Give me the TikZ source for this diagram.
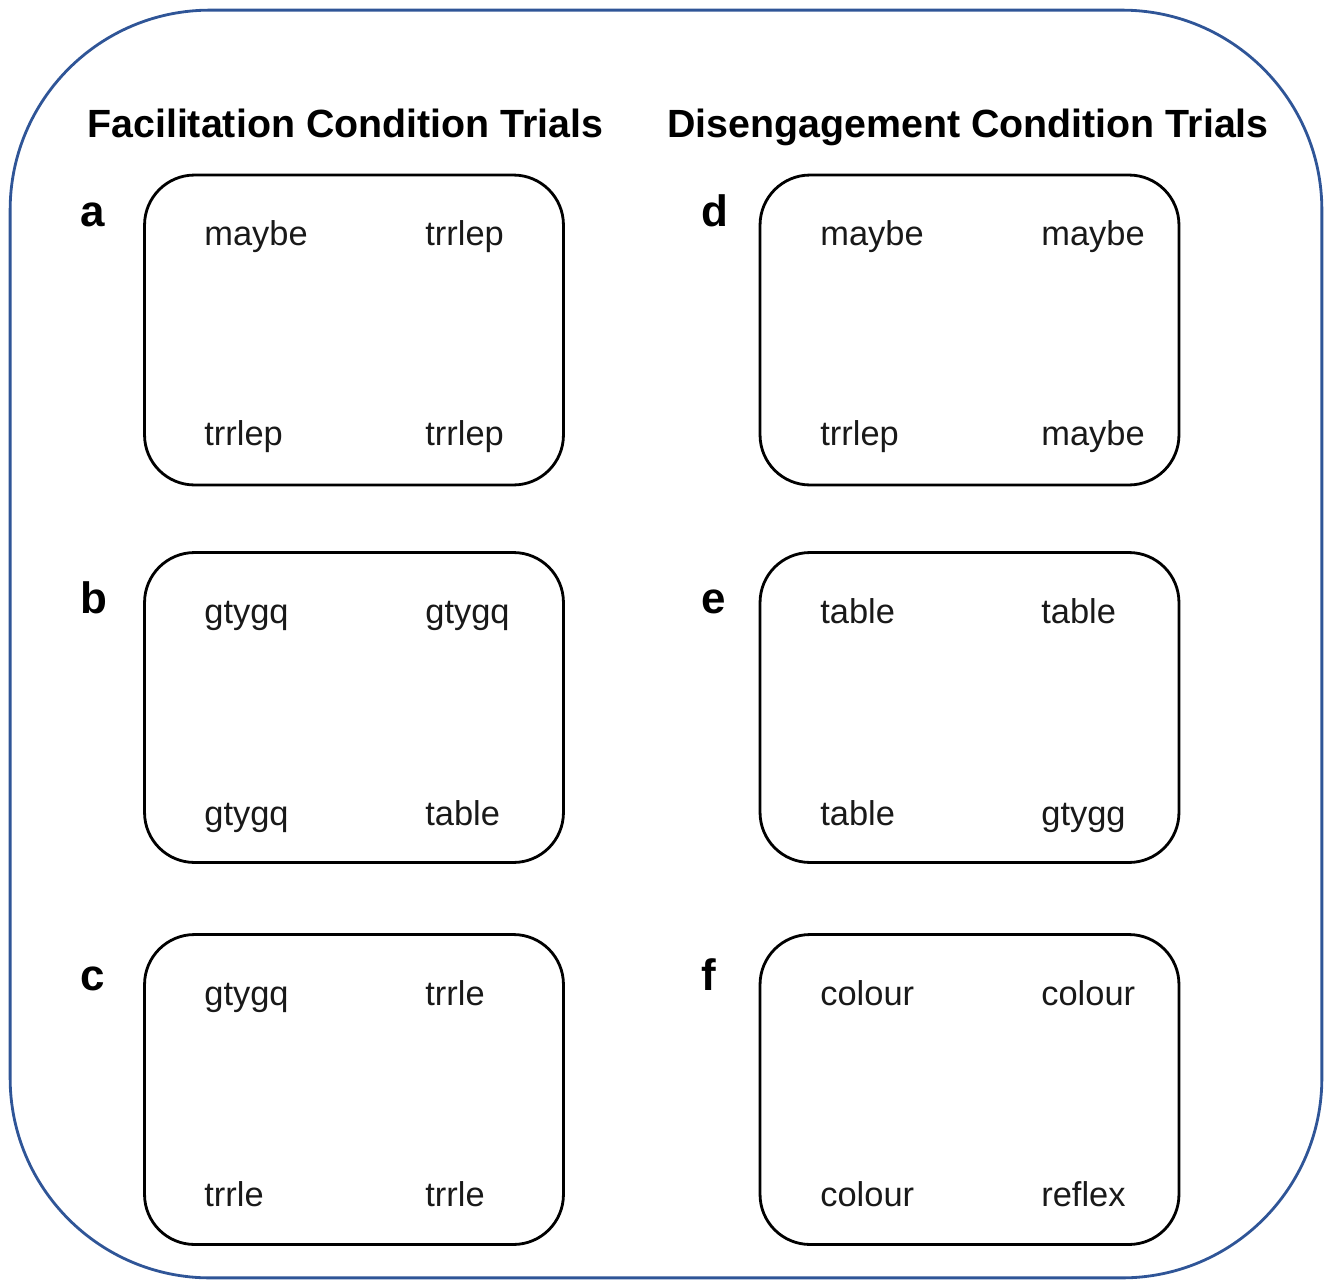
\documentclass[tikz,border=0pt]{standalone}
\usepackage{fontspec}
\setmainfont{Liberation Sans}
\usepackage{tikz}
\usetikzlibrary{positioning}
\definecolor{frameblue}{RGB}{47,85,151}

\begin{document}
\begin{tikzpicture}[
        x=0.02cm, y=-0.02cm,
        frame/.style={rectangle, rounded corners=4cm, draw=frameblue, line width=1.6pt,
                      minimum width=26.24cm, minimum height=25.36cm, inner sep=0pt},
        panel/.style={rectangle, rounded corners=1cm, draw=black, line width=1.6pt,
                      minimum width=8.38cm, minimum height=6.2cm, inner sep=0pt},
        heading/.style={anchor=base west, font=\fontsize{22.4}{26}\selectfont\bfseries, inner sep=0pt},
        letter/.style={anchor=base west, font=\fontsize{25}{30}\selectfont\bfseries, inner sep=0pt},
        word/.style={anchor=base west, font=\fontsize{19.6}{23}\selectfont, text=black!90, inner sep=0pt}
    ]
    \useasboundingbox (0,0) rectangle (1325,1281);
    \node[frame] (frame) at (666,644) {};

    \node[heading] (hfac) at (87,137)  {Facilitation Condition Trials};
    \node[heading] (hdis) at (667,137) {Disengagement Condition Trials};

    % facilitation column
    \node[panel] (pa) at (354,330)    {};
    \node[panel] (pb) at (354,707.5)  {};
    \node[panel] (pc) at (354,1089.5) {};
    \node[letter] (la) at (80,226)  {a};
    \node[letter] (lb) at (80,613)  {b};
    \node[letter] (lc) at (80,990)  {c};

    \node[word] (wa1) at (204,245)  {maybe};
    \node[word] (wa2) at (425,245)  {trrlep};
    \node[word] (wa3) at (204,445)  {trrlep};
    \node[word] (wa4) at (425,445)  {trrlep};

    \node[word] (wb1) at (204,623)  {gtygq};
    \node[word] (wb2) at (425,623)  {gtygq};
    \node[word] (wb3) at (204,825)  {gtygq};
    \node[word] (wb4) at (425,825)  {table};

    \node[word] (wc1) at (204,1005) {gtygq};
    \node[word] (wc2) at (425,1005) {trrle};
    \node[word] (wc3) at (204,1206) {trrle};
    \node[word] (wc4) at (425,1206) {trrle};

    % disengagement column
    \node[panel] (pd) at (969.5,330)    {};
    \node[panel] (pe) at (969.5,707.5)  {};
    \node[panel] (pf) at (969.5,1089.5) {};
    \node[letter] (ld) at (701,226) {d};
    \node[letter] (le) at (701,613) {e};
    \node[letter] (lf) at (701,990) {f};

    \node[word] (wd1) at (820,245)  {maybe};
    \node[word] (wd2) at (1041,245) {maybe};
    \node[word] (wd3) at (820,445)  {trrlep};
    \node[word] (wd4) at (1041,445) {maybe};

    \node[word] (we1) at (820,623)  {table};
    \node[word] (we2) at (1041,623) {table};
    \node[word] (we3) at (820,825)  {table};
    \node[word] (we4) at (1041,825) {gtygg};

    \node[word] (wf1) at (820,1005) {colour};
    \node[word] (wf2) at (1041,1005) {colour};
    \node[word] (wf3) at (820,1206) {colour};
    \node[word] (wf4) at (1041,1206) {reflex};
\end{tikzpicture}
\end{document}
